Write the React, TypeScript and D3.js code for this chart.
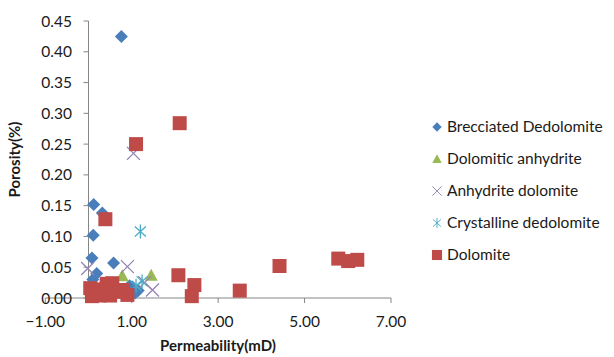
import React from "react";
import * as d3 from "d3";

// Permeability (mD) and porosity for each lithology
const brecciatedDedolomite: [number, number][] = [
  [0.76, 0.425], [0.12, 0.152], [0.32, 0.138], [0.11, 0.102], [0.08, 0.065],
  [0.58, 0.057], [0.19, 0.04], [1.02, 0.018], [1.15, 0.012], [1.08, 0.008],
  [0.95, 0.02], [0.1, 0.03],
];
const dolomiticAnhydrite: [number, number][] = [
  [0.78, 0.036], [1.45, 0.037],
];
const anhydriteDolomite: [number, number][] = [
  [1.04, 0.235], [-0.02, 0.048], [0.9, 0.051], [1.48, 0.013], [1.3, 0.025],
];
const crystallineDedolomite: [number, number][] = [
  [1.2, 0.108], [1.24, 0.027], [1.1, 0.02],
];
const dolomite: [number, number][] = [
  [1.1, 0.25], [2.11, 0.284], [0.39, 0.128], [2.08, 0.037], [2.45, 0.021],
  [2.39, 0.003], [3.5, 0.012], [4.42, 0.052], [5.78, 0.064], [6.01, 0.06],
  [6.22, 0.062], [0.04, 0.016], [0.08, 0.003], [0.25, 0.004], [0.42, 0.023],
  [0.55, 0.024], [0.5, 0.004], [0.68, 0.01], [0.8, 0.013], [0.9, 0.005],
  [0.2, 0.008], [0.3, 0.014],
];

const xTicks = [-1, 1, 3, 5, 7];
const yTicks = [0, 0.05, 0.1, 0.15, 0.2, 0.25, 0.3, 0.35, 0.4, 0.45];

const seriesNames = [
  "Brecciated Dedolomite",
  "Dolomitic anhydrite",
  "Anhydrite dolomite",
  "Crystalline dedolomite",
  "Dolomite",
];

const FONT = "Lato, 'Open Sans', sans-serif";
const BLUE = "#4A7EBB";
const GREEN = "#98B954";
const PURPLE = "#9384B4";
const AQUA = "#4BACC6";
const RED = "#BE4B48";

type Kind = "diamond" | "triangle" | "x" | "star" | "square";

function Marker({ kind, x, y, s = 1 }: { kind: Kind; x: number; y: number; s?: number }) {
  const t = `translate(${x},${y}) scale(${s})`;
  switch (kind) {
    case "diamond":
      return <path transform={t} d="M0,-6.5L6.5,0L0,6.5L-6.5,0Z" fill={BLUE} />;
    case "triangle":
      return <path transform={t} d="M0,-6.5L6.5,5.5L-6.5,5.5Z" fill={GREEN} />;
    case "x":
      return (
        <path transform={t} d="M-6.5,-6.5L6.5,6.5M6.5,-6.5L-6.5,6.5" stroke={PURPLE} strokeWidth={1.3} fill="none" />
      );
    case "star":
      return (
        <path transform={t} d="M0,-7L0,7M-5.5,-5L5.5,5M5.5,-5L-5.5,5" stroke={AQUA} strokeWidth={1.3} fill="none" />
      );
    case "square":
      return <rect transform={t} x={-7} y={-7} width={14} height={14} fill={RED} />;
  }
}

export default function App() {
  const x = d3.scaleLinear().domain([-1, 7]).range([45.3, 391]);
  const y = d3.scaleLinear().domain([0, 0.45]).range([298, 21]);
  const fmt = d3.format(".2f");

  const series: { name: string; kind: Kind; data: [number, number][] }[] = [
    { name: seriesNames[0], kind: "diamond", data: brecciatedDedolomite },
    { name: seriesNames[1], kind: "triangle", data: dolomiticAnhydrite },
    { name: seriesNames[2], kind: "x", data: anhydriteDolomite },
    { name: seriesNames[3], kind: "star", data: crystallineDedolomite },
    { name: seriesNames[4], kind: "square", data: dolomite },
  ];

  const x0 = x(0);
  const y0 = y(0);

  return (
    <svg
      width={614}
      height={357}
      style={{ position: "absolute", left: 0, top: 0, background: "#fff" }}
      fontFamily={FONT}
    >
      <rect width={614} height={357} fill="#fff" />

      {/* axes */}
      <line x1={x(-1)} x2={x(7)} y1={y0} y2={y0} stroke="#868686" strokeWidth={1} />
      <line x1={x0} x2={x0} y1={y(0.45)} y2={y0} stroke="#868686" strokeWidth={1} />
      {yTicks.map((t) => (
        <g key={t}>
          <line x1={x0 - 5} x2={x0} y1={y(t)} y2={y(t)} stroke="#868686" />
          <text x={72} y={y(t)} dy="0.36em" textAnchor="end" fontSize={15.5} fill="#1a1a1a">
            {fmt(t)}
          </text>
        </g>
      ))}
      {xTicks.map((t) => (
        <g key={t}>
          <line x1={x(t)} x2={x(t)} y1={y0} y2={y0 + 5} stroke="#868686" />
          <text x={x(t)} y={327} textAnchor="middle" fontSize={15.5} fill="#1a1a1a">
            {fmt(t)}
          </text>
        </g>
      ))}

      {/* axis titles */}
      <text x={218} y={351} textAnchor="middle" fontSize={15} fontWeight="bold" fill="#1a1a1a">
        Permeability(mD)
      </text>
      <text
        transform={`translate(20,${(y(0) + y(0.45)) / 2}) rotate(-90)`}
        textAnchor="middle"
        fontSize={15}
        fontWeight="bold"
        fill="#1a1a1a"
      >
        Porosity(%)
      </text>

      {/* points */}
      {series.map((s) => (
        <g key={s.name}>
          {s.data.map(([k, p], i) => (
            <Marker key={i} kind={s.kind} x={x(k)} y={y(p)} />
          ))}
        </g>
      ))}

      {/* legend */}
      {series.map((s, i) => {
        const cy = 127 + i * 32;
        return (
          <g key={s.name}>
            <Marker kind={s.kind} x={437} y={cy} s={0.72} />
            <text x={447} y={cy} dy="0.35em" fontSize={15.5} fill="#1a1a1a">
              {s.name}
            </text>
          </g>
        );
      })}
    </svg>
  );
}
